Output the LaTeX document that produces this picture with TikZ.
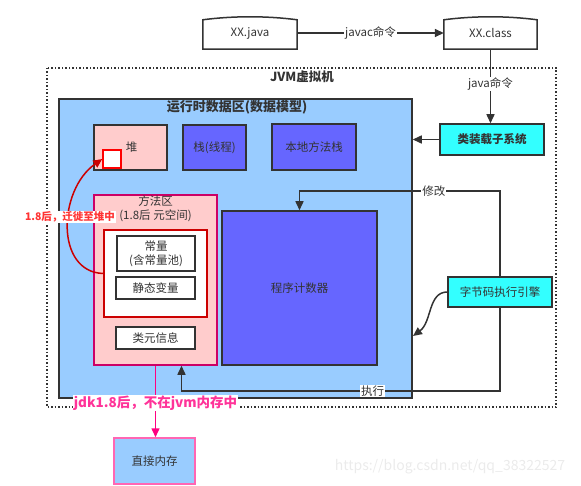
\documentclass[tikz,border=0pt]{standalone}
\usepackage{fontspec}
\setmainfont{Noto Sans CJK SC}
\usetikzlibrary{arrows.meta}
\definecolor{dk}{HTML}{333333}
\definecolor{blueA}{HTML}{99CCFF}
\definecolor{pinkA}{HTML}{FFCCCC}
\definecolor{purpA}{HTML}{6666FF}
\definecolor{cyanA}{HTML}{33FFFF}
\definecolor{magA}{HTML}{CC0066}
\definecolor{redA}{HTML}{CC0000}
\definecolor{redB}{HTML}{FF0000}
\definecolor{lblred}{HTML}{FF3333}
\definecolor{magB}{HTML}{FF0080}
\definecolor{magT}{HTML}{FF3399}
\definecolor{pinkB}{HTML}{FF66B3}
\begin{document}
\begin{tikzpicture}[x=1pt,y=-1pt,
  box/.style={draw=dk, line width=1.5pt, inner sep=0pt, align=center, font=\fontsize{11.5}{14}\selectfont, text=dk},
  arr/.style={draw=dk, line width=1.5pt, -{Triangle[length=9pt,width=8pt]}},
  lbl/.style={fill=white, inner sep=1pt, font=\fontsize{11.5}{14}\selectfont, text=dk},
  tnode/.style={inner sep=0pt, align=center, font=\fontsize{11.5}{14}\selectfont, text=dk}]
\useasboundingbox (0,0) rectangle (581,486);
% watermark
\node[font=\fontsize{14}{16}\selectfont, text=black!8] (wm) at (450,467) {https://blog.csdn.net/qq\_38322527};
% JVM dotted frame
\draw[dk, line width=1.5pt, dash pattern=on 1.5pt off 2pt] (47,68) rectangle (556,407);
\node[tnode, font=\bfseries\fontsize{12.5}{14}\selectfont] (jvm) at (302,77) {JVM虚拟机};
% source files
\node[tnode, minimum width=94pt, minimum height=32pt] (java) at (250,33) {XX.java};
\node[tnode, minimum width=93pt, minimum height=32pt] (cls) at (490.5,33) {XX.class};
\foreach \n in {java,cls}{
  \draw[dk, line width=1.5pt] (\n.south west) -- ([yshift=-3pt]\n.north west)
    .. controls ([xshift=30pt,yshift=1pt]\n.north west) and ([xshift=-30pt,yshift=1pt]\n.north east) .. ([yshift=-3pt]\n.north east)
    -- (\n.south east) -- cycle;
}
% runtime data area
\node[box, fill=blueA, minimum width=353pt, minimum height=299pt] (rda) at (235.5,248.5) {};
\node[tnode, font=\bfseries\fontsize{13}{15}\selectfont] (rdat) at (237,107) {运行时数据区(数据模型)};
\node[box, fill=pinkA, minimum width=73pt, minimum height=45pt] (heap) at (130.5,147.5) {\hspace*{2pt}堆};
\node[draw=redB, fill=white, line width=1.5pt, minimum width=18pt, minimum height=18pt, inner sep=0pt] (sq) at (112,159) {};
\node[box, fill=purpA, minimum width=63pt, minimum height=45pt] (stk) at (214.5,147.5) {栈(线程)};
\node[box, fill=purpA, minimum width=84pt, minimum height=46pt] (nat) at (314,147) {本地方法栈};
\node[box, draw=magA, fill=pinkA, minimum width=123pt, minimum height=170pt] (ma) at (155.5,280) {};
\node[tnode] (mat) at (155.5,208.5) {方法区\\(1.8后 元空间)};
\node[box, draw=redA, fill=white, minimum width=103pt, minimum height=87pt] (rb) at (155.5,273.5) {};
\node[box, fill=white, minimum width=78pt, minimum height=35pt] (cst) at (156,253.5) {常量\\(含常量池)};
\node[box, fill=white, minimum width=79pt, minimum height=22pt] (sta) at (155.5,288) {静态变量};
\node[box, fill=white, minimum width=79pt, minimum height=22pt] (cmi) at (155.5,338) {类元信息};
\node[box, fill=purpA, minimum width=155pt, minimum height=154pt] (pc) at (299.5,288) {程序计数器};
% subsystems
\node[box, fill=cyanA, minimum width=104pt, minimum height=31pt, font=\bfseries\fontsize{11.5}{14}\selectfont] (ldr) at (492,139.5) {类装载子系统};
\node[box, fill=cyanA, minimum width=104pt, minimum height=30pt] (eng) at (500,292) {字节码执行引擎};
\node[box, draw=pinkB, fill=blueA, minimum width=81pt, minimum height=46pt] (dir) at (154.5,461) {直接内存};
% connectors
\draw[arr] (java.east) -- node[lbl] {javac命令} (cls.west);
\draw[arr] (cls.south) -- node[lbl, pos=0.47] {java命令} (cls.south |- ldr.north);
\draw[arr] (ldr.west) -- (rda.east |- ldr.west);
\coordinate (modc) at (500,191);
\draw[arr] (eng.north) -- (modc) -| node[lbl, pos=0.165] {修改} (pc.north);
\coordinate (exc) at (500,391);
\draw[arr] (eng.south) -- (exc) -| node[lbl, pos=0.2] {执行} ([xshift=26pt]ma.south);
\coordinate (engtip) at (413,336);
\draw[arr] (eng.west) .. controls (428,292) and (432,322) .. (engtip);
\draw[draw=redA, line width=1.5pt, -{Triangle[length=9pt,width=8pt]}] (rb.west) .. controls (55,272) and (58,190) .. (sq.west);
\node[fill=white, inner sep=1pt, text=lblred, font=\bfseries\fontsize{10.5}{12}\selectfont] (mig) at (70,217) {1.8后，迁徙至堆中};
\draw[draw=magB, line width=1.5pt, -{Triangle[length=9pt,width=8pt]}] (ma.south) -- node[pos=0.52, fill=white, inner sep=1pt, text=magT, font=\bfseries\fontsize{13.5}{15}\selectfont] {jdk1.8后，不在jvm内存中} (ma.south |- dir.north);
\end{tikzpicture}
\end{document}
